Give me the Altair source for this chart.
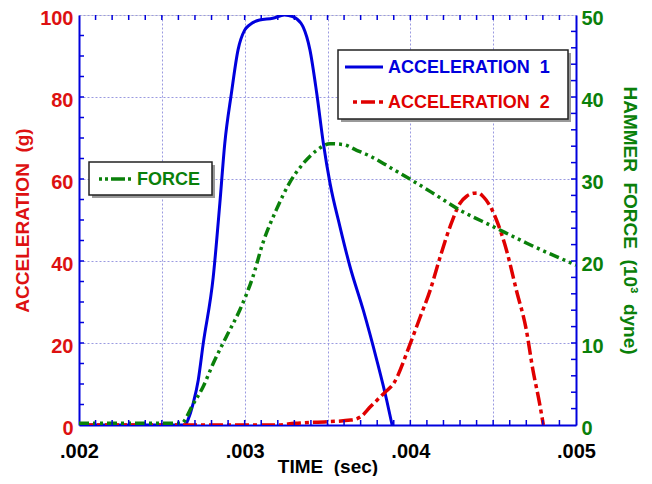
import altair as alt
import pandas as pd

# ---- data ----
t_acc1 = [0.002, 0.00264, 0.00266, 0.00269, 0.00272, 0.00275, 0.00281, 0.00285, 0.00288,
          0.00292, 0.00296, 0.00300, 0.00303, 0.00309, 0.00317, 0.00324, 0.00329, 0.00334,
          0.003354, 0.003394, 0.003435, 0.003475, 0.003515, 0.003575, 0.003636, 0.003716,
          0.003797, 0.003857, 0.00389]
acc1 = [0, 0, 1.5, 5.4, 11, 19.9, 36, 54, 68.7, 80.9, 91.5, 96.3, 97.6, 98.8, 99.2, 100,
        99.6, 98, 97, 91.5, 80.9, 68.7, 59, 48.4, 38.6, 28, 15.9, 6.1, 0]

t_acc2 = [0.002, 0.0032, 0.0033, 0.0035, 0.00364, 0.0037, 0.00376, 0.00384, 0.0039, 0.004,
          0.00406, 0.00412, 0.00418, 0.00424, 0.0043, 0.00434, 0.00438, 0.00441, 0.00444,
          0.00448, 0.00452, 0.00458, 0.00464, 0.0047, 0.00474, 0.00478, 0.004803]
acc2 = [0, 0, 0.4, 0.8, 1.2, 2.0, 4.5, 7.7, 10.2, 19.9, 26.4, 32.9, 41, 48.4, 54.1, 55.8,
        56.5, 56.6, 55.7, 53.5, 50, 42.7, 32.9, 23.2, 13.4, 5.3, 0]

t_force = [0.002, 0.00262, 0.00265, 0.00268, 0.00275, 0.00281, 0.00289, 0.00297, 0.00305,
           0.00311, 0.00319, 0.00327, 0.003354, 0.003435, 0.003515, 0.003596, 0.003676,
           0.003757, 0.003837, 0.00392, 0.004038, 0.00415, 0.0043, 0.0045, 0.0047, 0.005]
force = [0.2, 0.2, 1, 2.2, 4.7, 7.5, 10.8, 14.0, 18.1, 22.2, 26.2, 29.5, 31.9, 33.5, 34.3,
         34.2, 33.5, 32.8, 31.9, 30.9, 29.5, 28.1, 26.2, 24.2, 22.2, 19.5]

x_grid = [0.002, 0.0025, 0.003, 0.0035, 0.004, 0.0045, 0.005]
x_minor = [round(0.002 + i * 0.0001, 4) for i in range(1, 30)]
acc_ticks = [0, 20, 40, 60, 80, 100]
acc_minor = list(range(5, 100, 5))
force_ticks = [0, 10, 20, 30, 40, 50]
force_minor = list(range(2, 50, 2))

SP = "\u00a0\u00a0"
BLUE = "#0000dd"
RED = "#e00000"
GREEN = "#0a800a"
FONT = "Liberation Sans"
W, H = 497, 410

df1 = pd.DataFrame({"t": t_acc1, "a": acc1})
df2 = pd.DataFrame({"t": t_acc2, "a": acc2})
dff = pd.DataFrame({"t": t_force, "f": force})

xscale = alt.Scale(domain=[0.002, 0.005], nice=False, zero=False)
xaxis = alt.Axis(values=x_grid, grid=True, gridColor="#9a9ae0", gridDash=[2, 2], gridWidth=1,
                 tickSize=0, labelPadding=32, labelBaseline="alphabetic", labelAlign="center",
                 labelFlush=False, labelFontSize=20, labelFontWeight="bold",
                 labelColor="black", labelFont=FONT,
                 labelExpr="(round(datum.value*10000)%10==0) ? substring(format(datum.value,'.3f'),1) : ''",
                 title="TIME" + SP + "(sec)", titleFontSize=19, titleFontWeight="bold",
                 titleFont=FONT, titleColor="black", titleBaseline="alphabetic", titleY=47,
                 domainColor=BLUE, domainWidth=2)
accscale = alt.Scale(domain=[0, 100], nice=False)
fscale = alt.Scale(domain=[0, 50], nice=False)
X = alt.X("t:Q", scale=xscale, axis=xaxis)

acc1_line = alt.Chart(df1).mark_line(color=BLUE, strokeWidth=3, clip=True,
                                     interpolate="monotone").encode(
    x=X,
    y=alt.Y("a:Q", scale=accscale,
            axis=alt.Axis(orient="left", values=acc_ticks, grid=True, gridColor="#9a9ae0",
                          gridDash=[2, 2], tickSize=0, labelPadding=6, labelFontSize=20,
                          labelFontWeight="bold", labelColor="#dd1111", labelFont=FONT,
                          labelBaseline="alphabetic", labelOffset=9,
                          title="ACCELERATION" + SP + "(g)", titleColor="#dd1111",
                          titleFontSize=19, titleFontWeight="bold", titleFont=FONT,
                          titlePadding=7, domainColor=BLUE, domainWidth=2)),
    order="t:Q",
)
acc2_line = alt.Chart(df2).mark_line(color=RED, strokeWidth=3.5, strokeDash=[14, 4, 4, 4],
                                     clip=True, interpolate="monotone").encode(
    x=X,
    y=alt.Y("a:Q", scale=accscale, axis=None),
    order="t:Q",
)
force_line = alt.Chart(dff).mark_line(color=GREEN, strokeWidth=3.5,
                                      strokeDash=[10, 4, 3, 4, 3, 4], clip=True,
                                      interpolate="monotone").encode(
    x=X,
    y=alt.Y("f:Q", scale=fscale,
            axis=alt.Axis(orient="right", values=force_ticks, grid=False, tickSize=0,
                          labelPadding=5, labelFontSize=20, labelFontWeight="bold",
                          labelColor=GREEN, labelFont=FONT,
                          labelBaseline="alphabetic", labelOffset=9,
                          title="HAMMER" + SP + "FORCE" + SP + "(10³" + SP + "dyne)",
                          titleColor=GREEN, titleFontSize=19, titleFontWeight="bold",
                          titleFont=FONT, titlePadding=16, domainColor=BLUE, domainWidth=2)),
    order="t:Q",
)

# inward minor ticks
xm = pd.DataFrame({"t": x_minor})
xt_bottom = alt.Chart(xm).mark_rule(color=BLUE, strokeWidth=1.5).encode(
    x=X, y=alt.value(H), y2=alt.value(H - 5))
xt_top = alt.Chart(xm).mark_rule(color=BLUE, strokeWidth=1.5).encode(
    x=X, y=alt.value(0), y2=alt.value(5))
yl = alt.Chart(pd.DataFrame({"a": acc_minor})).mark_rule(color=BLUE, strokeWidth=1.5).encode(
    y=alt.Y("a:Q", scale=accscale, axis=None), x=alt.value(0), x2=alt.value(5))
yr = alt.Chart(pd.DataFrame({"f": force_minor})).mark_rule(color=BLUE, strokeWidth=1.5).encode(
    y=alt.Y("f:Q", scale=fscale, axis=None), x=alt.value(W), x2=alt.value(W - 5))

# legend boxes (annotations)
def box(x1, y1, x2, y2):
    shadow = alt.Chart(pd.DataFrame({"k": [0]})).mark_rect(fill="#999999").encode(
        x=alt.value(x1 + 3), x2=alt.value(x2 + 3), y=alt.value(y1 + 3), y2=alt.value(y2 + 3))
    frame = alt.Chart(pd.DataFrame({"k": [0]})).mark_rect(
        fill="white", stroke="#222222", strokeWidth=1.5).encode(
        x=alt.value(x1), x2=alt.value(x2), y=alt.value(y1), y2=alt.value(y2))
    return [shadow, frame]

def sample(x1, x2, y, color, dash, width):
    return alt.Chart(pd.DataFrame({"k": [0]})).mark_rule(
        color=color, strokeWidth=width, strokeDash=dash).encode(
        x=alt.value(x1), x2=alt.value(x2), y=alt.value(y))

def label(x, y, text, color):
    return alt.Chart(pd.DataFrame({"k": [0]})).mark_text(
        text=text, color=color, fontSize=18, fontWeight="bold", font=FONT,
        align="left", baseline="middle").encode(x=alt.value(x), y=alt.value(y))

legend = (box(259, 35, 489, 104)
          + [sample(266, 304, 52, BLUE, [1, 0], 3),
             label(309, 53, "ACCELERATION" + SP + "1", BLUE),
             sample(274, 304, 87, RED, [4, 4, 14, 4], 3.5),
             label(309, 88, "ACCELERATION" + SP + "2", RED)]
          + box(10, 147, 133, 180)
          + [sample(20, 53, 164, GREEN, [3, 3, 3, 3, 14, 3], 3.5),
             label(58, 165, "FORCE", GREEN)])

chart = alt.layer(
    acc1_line, acc2_line, force_line, xt_bottom, xt_top, yl, yr, *legend
).resolve_scale(y="independent").properties(
    width=W, height=H,
    autosize=alt.AutoSizeParams(type="none"),
    padding={"left": 71, "top": 7, "right": 68, "bottom": 51},
).configure_view(stroke=BLUE, strokeWidth=2).configure(background="white")

chart.save("out.html", embed_options={"renderer": "svg", "actions": False})
